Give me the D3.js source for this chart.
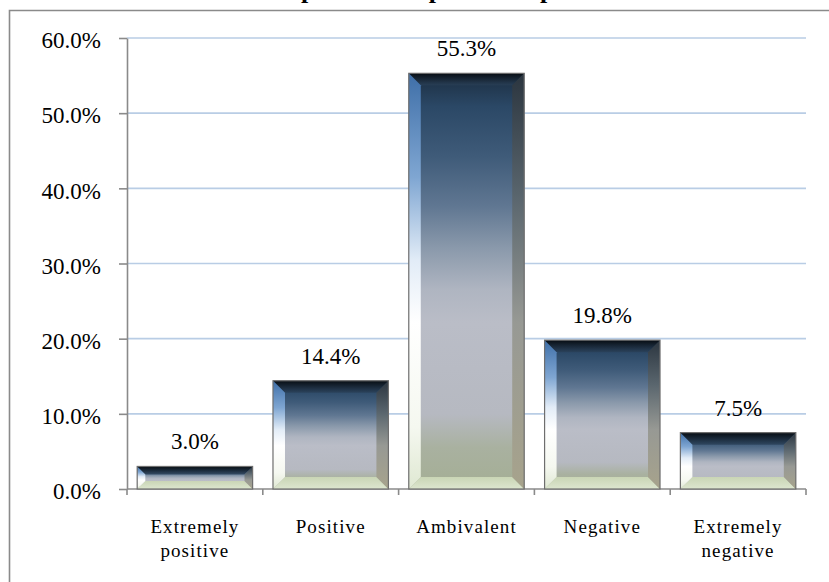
<!DOCTYPE html>
<html><head><meta charset="utf-8">
<script src="https://cdn.jsdelivr.net/npm/d3@7"></script>
<style>body{margin:0;background:#fff}svg{display:block}
svg text{font-family:"Liberation Serif","Times New Roman",serif}</style>
</head><body>
<svg id="chart" width="829" height="582"></svg>
<script>
const titleText = "Respondents' opinion on pensions";
const categories = ["Extremely positive", "Positive", "Ambivalent", "Negative", "Extremely negative"];
const values = [3.0, 14.4, 55.3, 19.8, 7.5];
const yTicks = [0, 10, 20, 30, 40, 50, 60];

(function() {
const svg = d3.select("#chart");
const serif = '"Liberation Serif","Times New Roman",serif';
const pLeft = 127, pRight = 806, pTop = 38, pBottom = 489;

const x = d3.scaleBand().domain(categories).range([pLeft, pRight]).paddingInner(0.15).paddingOuter(0.075);
const y = d3.scaleLinear().domain([0, 60]).range([pBottom, pTop]);

const defs = svg.append("defs");
function grad(id, stops, horiz) {
  const g = defs.append("linearGradient").attr("id", id)
    .attr("x1", 0).attr("y1", 0).attr("x2", horiz ? 1 : 0).attr("y2", horiz ? 0 : 1);
  stops.forEach(s => g.append("stop").attr("offset", s[0]).attr("stop-color", s[1]).attr("stop-opacity", s[2] == null ? 1 : s[2]));
}
grad("body", [[0, "#1b2d40"], [0.08, "#2b4866"], [0.2, "#3f5b79"], [0.32, "#607792"], [0.42, "#8a99ab"], [0.52, "#afb5c1"], [0.6, "#babdc7"], [0.82, "#b6b9c1"], [0.9, "#a9b1a0"], [1, "#a4ae94"]]);
grad("bvTop", [[0, "#070d13"], [1, "#2a4058", 0.8]]);
grad("bvLeft", [[0, "#3f6fa8"], [0.25, "#7fa6d2"], [0.45, "#e2ecf7"], [0.6, "#ffffff"], [0.85, "#f5f8f0"], [1, "#dfe8d2"]]);
grad("bvRight", [[0, "#2b353f"], [0.3, "#5a666e"], [0.6, "#979994"], [1, "#a7a38c"]]);
grad("bvBottom", [[0, "#c9d5b5"], [1, "#dde6cf"]]);

// outer frame
svg.append("path").attr("d", "M9.5,582 V10.5 H829").attr("fill", "none").attr("stroke", "#8a8a8a").attr("stroke-width", 1.6);

// title (clipped by the top edge, as in the reference)
svg.append("text").attr("x", 448).attr("y", -2).attr("text-anchor", "middle")
  .style("font-family", serif).attr("font-weight", "bold").attr("font-size", 26).attr("fill", "#000")
  .text(titleText);

// gridlines
svg.append("g").selectAll("line").data(yTicks.filter(d => d > 0)).join("line")
  .attr("x1", pLeft).attr("x2", pRight).attr("y1", d => y(d)).attr("y2", d => y(d))
  .attr("stroke", "#b9cde5").attr("stroke-width", 1.6);

// y axis
const yAxis = svg.append("g").attr("transform", `translate(${pLeft},0)`)
  .call(d3.axisLeft(y).tickValues(yTicks).tickFormat(d => d.toFixed(1) + "%").tickSize(8).tickSizeOuter(0).tickPadding(18));
yAxis.attr("font-family", null);
yAxis.selectAll("path,line").attr("stroke", "#8a8a8a").attr("stroke-width", 1.6);
yAxis.selectAll("text").style("font-family", serif).attr("font-size", 23).attr("fill", "#000").attr("dy", "0.42em");

// x axis
const step = x.step(), gap = step * x.paddingInner() / 2;
const bounds = categories.map(c => x(c) - gap).concat([x(categories[categories.length - 1]) + x.bandwidth() + gap]);
svg.append("line").attr("x1", pLeft).attr("x2", pRight).attr("y1", pBottom).attr("y2", pBottom)
  .attr("stroke", "#8a8a8a").attr("stroke-width", 1.6);
svg.append("g").selectAll("line").data(bounds).join("line")
  .attr("x1", d => d).attr("x2", d => d).attr("y1", pBottom).attr("y2", pBottom + 6)
  .attr("stroke", "#8a8a8a").attr("stroke-width", 1.6);

// category labels
const catG = svg.append("g").selectAll("text").data(categories).join("text")
  .attr("x", d => x(d) + x.bandwidth() / 2).attr("y", 533).attr("text-anchor", "middle")
  .style("font-family", serif).attr("font-size", 19).attr("letter-spacing", 1.1).attr("fill", "#000");
catG.each(function(d) {
  const words = d.split(" ");
  d3.select(this).selectAll("tspan").data(words).join("tspan")
    .attr("x", x(d) + x.bandwidth() / 2).attr("dy", (w, i) => i === 0 ? 0 : 24).text(w => w);
});

// bars
const data = categories.map((c, i) => ({c, v: values[i]}));
const bars = svg.append("g").selectAll("g").data(data).join("g");
bars.each(function(d) {
  const g = d3.select(this);
  const x0 = x(d.c), w = x.bandwidth(), y0 = y(d.v), h = y(0) - y(d.v);
  const b = Math.min(12, h * 0.36);
  const x1 = x0 + w, y1 = y0 + h;
  g.append("rect").attr("x", x0).attr("y", y0).attr("width", w).attr("height", h).attr("fill", "url(#body)");
  const poly = (pts, fill) => g.append("polygon").attr("points", pts.map(p => p.join(",")).join(" ")).attr("fill", fill);
  poly([[x0, y0], [x1, y0], [x1 - b, y0 + b], [x0 + b, y0 + b]], "url(#bvTop)");
  poly([[x0, y1], [x1, y1], [x1 - b, y1 - b], [x0 + b, y1 - b]], "url(#bvBottom)");
  poly([[x0, y0], [x0 + b, y0 + b], [x0 + b, y1 - b], [x0, y1]], "url(#bvLeft)");
  poly([[x1, y0], [x1 - b, y0 + b], [x1 - b, y1 - b], [x1, y1]], "url(#bvRight)");
  g.append("rect").attr("x", x0).attr("y", y0).attr("width", w).attr("height", h)
    .attr("fill", "none").attr("stroke", "#6e6e6e").attr("stroke-width", 1.2);
});

// value labels
svg.append("g").selectAll("text").data(data).join("text")
  .attr("x", d => x(d.c) + x.bandwidth() / 2).attr("y", d => y(d.v) - 17)
  .attr("text-anchor", "middle").style("font-family", serif).attr("font-size", 23).attr("fill", "#000")
  .text(d => d.v.toFixed(1) + "%");
})();
</script>
</body></html>
